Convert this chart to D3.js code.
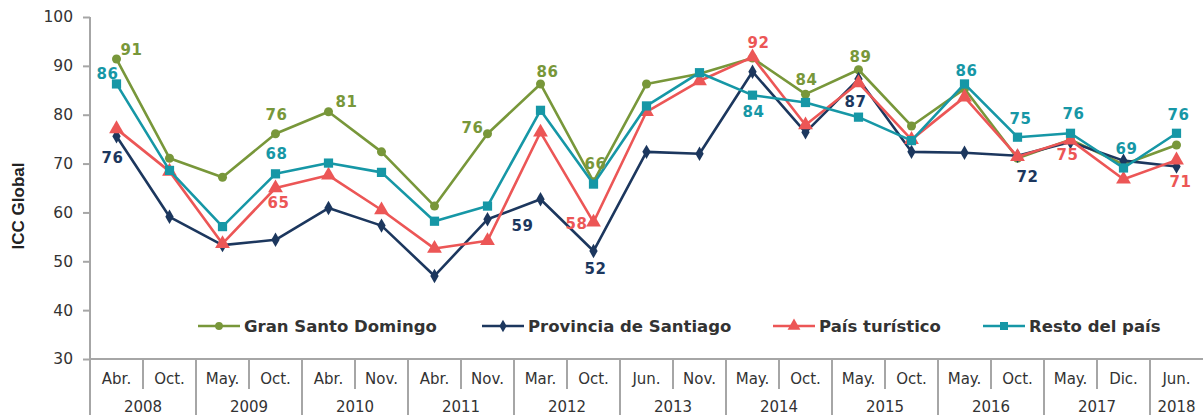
<!DOCTYPE html>
<html>
<head>
<meta charset="utf-8">
<script src="https://cdn.jsdelivr.net/npm/d3@7"></script>
<style>
  html, body { margin: 0; padding: 0; background: #fff; }
  svg { display: block; }
</style>
</head>
<body>
<svg id="chart" width="1203" height="415"></svg>
<script>
// ---------- DATA ----------
const months = ["Abr.","Oct.","May.","Oct.","Abr.","Nov.","Abr.","Nov.","Mar.","Oct.","Jun.","Nov.","May.","Oct.","May.","Oct.","May.","Oct.","May.","Dic.","Jun."];
const years  = ["2008","2008","2009","2009","2010","2010","2011","2011","2012","2012","2013","2013","2014","2014","2015","2015","2016","2016","2017","2017","2018"];

const granSantoDomingo   = [91.4, 71.1, 67.2, 76.1, 80.6, 72.4, 61.3, 76.1, 86.3, 66.3, 86.3, 88.4, 91.6, 84.2, 89.2, 77.7, 85.3, 71.1, 74.9, 69.8, 73.8];
const provinciaSantiago  = [75.6, 59.1, 53.3, 54.4, 60.9, 57.3, 47.0, 58.6, 62.7, 52.1, 72.4, 72.0, 88.8, 76.4, 87.3, 72.4, 72.2, 71.6, 74.4, 70.6, 69.4];
const paisTuristico      = [77.1, 68.4, 53.6, 65.0, 67.6, 60.5, 52.6, 54.2, 76.4, 58.0, 80.6, 86.9, 91.8, 77.9, 86.5, 74.9, 83.6, 71.4, 74.8, 66.8, 70.7];
const restoPais          = [86.3, 68.6, 57.1, 67.9, 70.1, 68.2, 58.2, 61.3, 80.9, 65.8, 81.8, 88.6, 84.0, 82.5, 79.5, 74.7, 86.3, 75.4, 76.2, 69.1, 76.2];

const seriesNames = ["Gran Santo Domingo", "Provincia de Santiago", "País turístico", "Resto del país"];
const yTicks = [30, 40, 50, 60, 70, 80, 90, 100];

// which points carry a value label: [seriesIndex, pointIndex]
const labelled = [
  [0,0],[0,3],[0,4],[0,7],[0,8],[0,9],[0,13],[0,14],
  [1,0],[1,7],[1,9],[1,14],[1,17],
  [2,3],[2,9],[2,12],[2,18],[2,20],
  [3,0],[3,3],[3,12],[3,16],[3,17],[3,18],[3,19],[3,20]
];

// ---------- STYLE / LAYOUT ----------
const colors  = ["#78973A", "#1C375E", "#EC5656", "#1697A6"];
const shapes  = [d3.symbolCircle, d3.symbolDiamond, d3.symbolTriangle, d3.symbolSquare];
const symSize = [64, 60, 95, 85];
// label offsets (dx, dy of text centre relative to the point), same order as `labelled`
const labelOffsets = [
  [15,-9],[1,-19],[18,-10],[-15,-6],[7,-12],[2,-18],[1,-15],[2,-13],
  [-4,21],[35,6],[2,18],[-3,23],[10,21],
  [3,15],[-17,1],[6,-14],[-3,14],[4,21],
  [-9,-10],[1,-20],[1,16],[2,-13],[3,-19],[3,-20],[3,-19],[2,-19]
];

const svg = d3.select("#chart");
const W = 1203, H = 415;
const margin = {left: 90, right: 0, top: 17, bottom: 56};
const plotBottom = H - margin.bottom; // 359

const allSeries = [granSantoDomingo, provinciaSantiago, paisTuristico, restoPais];

const x = d3.scaleBand().domain(d3.range(months.length)).range([margin.left, W - margin.right]).paddingInner(0).paddingOuter(0);
const y = d3.scaleLinear().domain([30, 100]).range([plotBottom, margin.top]);
const cx = i => x(i) + x.bandwidth() / 2;

const axisColor = "#A6A6A6";
const textColor = "#333333";

// ---------- Y AXIS ----------
const yAxis = d3.axisLeft(y).tickValues(yTicks).tickSize(7).tickPadding(10).tickFormat(d3.format("d"));
const gy = svg.append("g").attr("transform", `translate(${margin.left},0)`).call(yAxis);
gy.select(".domain").remove();
gy.selectAll(".tick line").attr("stroke", axisColor).attr("stroke-width", 2);
gy.selectAll(".tick text").attr("fill", textColor).style("font-family", "'DejaVu Sans', Verdana, sans-serif").style("font-size", "15.5px");
svg.append("line").attr("x1", margin.left).attr("x2", margin.left).attr("y1", margin.top).attr("y2", H)
  .attr("stroke", axisColor).attr("stroke-width", 2);

svg.append("text")
  .attr("transform", `translate(24, ${(margin.top + plotBottom) / 2 + 18}) rotate(-90)`)
  .attr("text-anchor", "middle")
  .style("font-family", "'Liberation Sans', Arial, sans-serif")
  .style("font-weight", "bold").style("font-size", "17px")
  .attr("fill", "#222")
  .text("ICC Global");

// ---------- X AXIS (two-level) ----------
const xAxis = d3.axisBottom(x).tickSize(0).tickPadding(14).tickFormat(i => months[i]);
const gx = svg.append("g").attr("transform", `translate(0,${plotBottom})`).call(xAxis);
gx.select(".domain").remove();
gx.selectAll(".tick text").attr("fill", textColor).style("font-family", "'DejaVu Sans', Verdana, sans-serif").style("font-size", "15px");
svg.append("line").attr("x1", margin.left).attr("x2", W).attr("y1", plotBottom).attr("y2", plotBottom)
  .attr("stroke", axisColor).attr("stroke-width", 2);

// dividers
for (let i = 1; i < months.length; i++) {
  const bx = x(i);
  const yearBreak = years[i] !== years[i - 1];
  svg.append("line").attr("x1", bx).attr("x2", bx).attr("y1", plotBottom)
    .attr("y2", yearBreak ? H : plotBottom + 30)
    .attr("stroke", axisColor).attr("stroke-width", 2);
}
// year labels
const yearGroups = d3.groups(d3.range(years.length), i => years[i]);
svg.append("g").selectAll("text").data(yearGroups).join("text")
  .attr("x", d => (x(d[1][0]) + x(d[1][d[1].length - 1]) + x.bandwidth()) / 2)
  .attr("y", plotBottom + 53)
  .attr("text-anchor", "middle")
  .attr("fill", textColor)
  .style("font-family", "'DejaVu Sans', Verdana, sans-serif").style("font-size", "15px")
  .text(d => d[0]);

// ---------- LINES ----------
const line = d3.line().x((d, i) => cx(i)).y(d => y(d));
allSeries.forEach((s, k) => {
  svg.append("path").datum(s).attr("d", line).attr("fill", "none")
    .attr("stroke", colors[k]).attr("stroke-width", 2.6).attr("stroke-linejoin", "round");
  svg.append("g").selectAll("path").data(s).join("path")
    .attr("transform", (d, i) => `translate(${cx(i)},${y(d)})`)
    .attr("d", d3.symbol().type(shapes[k]).size(symSize[k]))
    .attr("fill", colors[k]);
});

// ---------- VALUE LABELS ----------
svg.append("g").selectAll("text").data(labelled).join("text")
  .attr("x", (d, j) => cx(d[1]) + labelOffsets[j][0])
  .attr("y", (d, j) => y(allSeries[d[0]][d[1]]) + labelOffsets[j][1])
  .attr("dy", "0.36em")
  .attr("text-anchor", "middle")
  .attr("fill", d => colors[d[0]])
  .style("font-family", "'DejaVu Sans', Verdana, sans-serif")
  .style("font-weight", "bold").style("font-size", "15px")
  .style("letter-spacing", "0.5px")
  .text(d => Math.round(allSeries[d[0]][d[1]]));

// ---------- LEGEND ----------
const legendX = [198, 482, 773, 983];
const legendY = 326;
const lg = svg.append("g").selectAll("g").data(seriesNames).join("g")
  .attr("transform", (d, k) => `translate(${legendX[k]},${legendY})`);
lg.append("line").attr("x1", 0).attr("x2", 42).attr("y1", 0).attr("y2", 0)
  .attr("stroke", (d, k) => colors[k]).attr("stroke-width", 2.6);
lg.append("path").attr("transform", "translate(21,0)")
  .attr("d", (d, k) => d3.symbol().type(shapes[k]).size(symSize[k] * 0.75)())
  .attr("fill", (d, k) => colors[k]);
lg.append("text").attr("x", 46).attr("dy", "0.36em")
  .attr("fill", "#333")
  .style("font-family", "'DejaVu Sans', Verdana, sans-serif")
  .style("font-weight", "bold").style("font-size", "16.5px")
  .text(d => d);
</script>
</body>
</html>
